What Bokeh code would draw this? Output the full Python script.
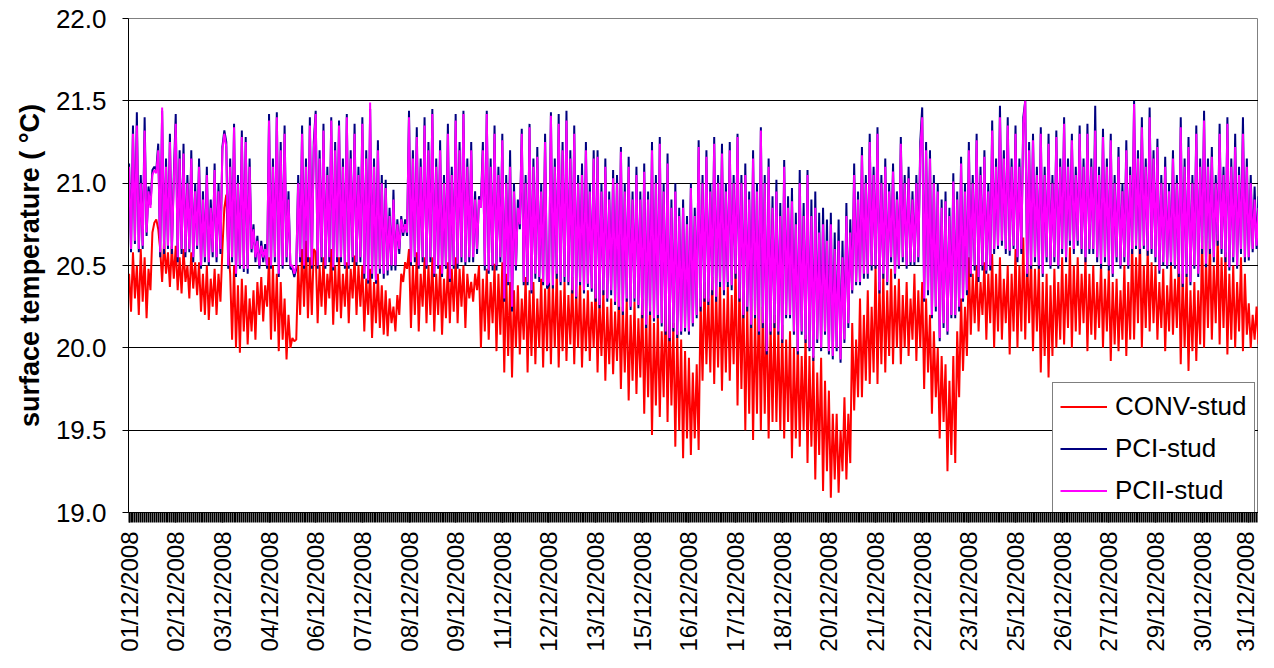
import math
from bokeh.plotting import figure
from bokeh.models import Range1d, FixedTicker, Legend, LegendItem
from bokeh.embed import file_html
from bokeh.resources import INLINE

# ---------------- data ----------------
date_labels = ["01/12/2008", "02/12/2008", "03/12/2008", "04/12/2008", "06/12/2008",
               "07/12/2008", "08/12/2008", "09/12/2008", "11/12/2008", "12/12/2008",
               "13/12/2008", "15/12/2008", "16/12/2008", "17/12/2008", "18/12/2008",
               "20/12/2008", "21/12/2008", "22/12/2008", "23/12/2008", "25/12/2008",
               "26/12/2008", "27/12/2008", "29/12/2008", "30/12/2008", "31/12/2008"]
samples_per_label = 24

y_ticks = [19.0, 19.5, 20.0, 20.5, 21.0, 21.5, 22.0]
grid_ticks = [19.5, 20.0, 20.5, 21.0, 21.5]

conv_stud = [
    20.45, 20.22, 20.58, 20.3, 20.5, 20.2, 20.6, 20.28, 20.55, 20.18, 20.48, 20.35,
    20.7, 20.76, 20.78, 20.72, 20.6, 20.4, 20.65, 20.45, 20.58, 20.37, 20.62, 20.42,
    20.62, 20.35, 20.55, 20.33, 20.6, 20.4, 20.5, 20.3, 20.58, 20.36, 20.52, 20.32,
    20.52, 20.22, 20.45, 20.2, 20.5, 20.17, 20.42, 20.25, 20.48, 20.2, 20.45, 20.28,
    20.6, 20.85, 20.93, 20.6, 20.45, 20.05, 20.5, 20.0, 20.38, 19.97, 20.42, 20.1,
    20.38, 20.02, 20.3, 20.1, 20.35, 20.05, 20.4, 20.2, 20.43, 20.16, 20.38, 20.25,
    20.55, 20.05, 20.5, 20.1, 20.45, 19.98, 20.4, 20.05, 20.3, 19.93, 20.2, 20.0,
    20.06, 20.04, 20.05, 20.5, 20.2, 20.6, 20.25, 20.65, 20.18, 20.55, 20.2, 20.6,
    20.58, 20.15, 20.5, 20.25, 20.55, 20.2, 20.45, 20.3, 20.6, 20.14, 20.5, 20.22,
    20.55, 20.18, 20.45, 20.25, 20.52, 20.15, 20.48, 20.3, 20.56, 20.2, 20.5, 20.25,
    20.5, 20.1, 20.42, 20.2, 20.48, 20.06, 20.4, 20.15, 20.45, 20.12, 20.38, 20.08,
    20.35, 20.07, 20.3, 20.15, 20.25, 20.1, 20.32, 20.2, 20.45, 20.4, 20.52, 20.48,
    20.6, 20.12, 20.5, 20.2, 20.58, 20.1, 20.45, 20.25, 20.55, 20.15, 20.5, 20.2,
    20.55, 20.1, 20.45, 20.2, 20.5, 20.08, 20.42, 20.18, 20.52, 20.15, 20.48, 20.22,
    20.55, 20.15, 20.48, 20.25, 20.5, 20.12, 20.45, 20.3, 20.4, 20.28, 20.45, 20.35,
    20.5, 20.0, 20.42, 20.1, 20.48, 20.05, 20.4, 20.15, 20.51, 19.98, 20.45, 20.08,
    20.52, 19.85, 20.45, 19.95, 20.4, 19.82, 20.35, 20.0, 20.38, 19.96, 20.3, 20.05,
    20.43, 19.85, 20.35, 19.95, 20.4, 19.9, 20.3, 20.0, 20.42, 19.88, 20.36, 19.98,
    20.45, 19.9, 20.38, 20.0, 20.47, 19.88, 20.35, 19.98, 20.4, 19.92, 20.32, 20.02,
    20.43, 19.9, 20.35, 20.0, 20.4, 19.88, 20.3, 19.98, 20.35, 19.92, 20.28, 20.0,
    20.39, 19.85, 20.3, 19.95, 20.35, 19.8, 20.25, 19.9, 20.3, 19.84, 20.22, 19.92,
    20.34, 19.75, 20.25, 19.85, 20.3, 19.68, 20.2, 19.8, 20.28, 19.72, 20.18, 19.82,
    20.3, 19.6, 20.2, 19.7, 20.25, 19.47, 20.15, 19.65, 20.2, 19.58, 20.1, 19.7,
    20.35, 19.55, 20.2, 19.65, 20.15, 19.4, 20.1, 19.5, 20.05, 19.33, 19.98, 19.45,
    19.94, 19.35, 19.85, 19.45, 19.9, 19.38, 20.3, 19.8, 20.4, 19.9, 20.3, 19.85,
    20.43, 19.78, 20.35, 19.88, 20.4, 19.74, 20.3, 19.85, 20.38, 19.8, 20.32, 19.9,
    20.5, 19.65, 20.4, 19.75, 20.35, 19.5, 20.25, 19.6, 20.3, 19.44, 20.2, 19.6,
    20.35, 19.5, 20.25, 19.6, 20.27, 19.45, 20.15, 19.55, 20.2, 19.55, 20.1, 19.5,
    20.14, 19.45, 20.05, 19.55, 20.1, 19.33, 20.0, 19.45, 20.05, 19.4, 19.95, 19.5,
    20.08, 19.3, 19.95, 19.4, 19.95, 19.2, 19.85, 19.35, 19.94, 19.13, 19.8, 19.25,
    19.74, 19.09, 19.6, 19.2, 19.6, 19.12, 19.5, 19.25, 19.7, 19.2, 19.6, 19.3,
    20.15, 19.62, 20.05, 19.7, 20.3, 19.7, 20.2, 19.8, 20.35, 19.78, 20.25, 19.85,
    20.5, 19.78, 20.4, 19.9, 20.45, 19.85, 20.35, 19.95, 20.48, 19.9, 20.38, 20.0,
    20.42, 19.9, 20.32, 20.0, 20.4, 19.95, 20.3, 20.05, 20.45, 19.92, 20.35, 20.0,
    20.4, 19.75, 20.3, 19.85, 20.2, 19.6, 20.1, 19.7, 20.0, 19.45, 19.95, 19.55,
    19.9, 19.25, 19.8, 19.35, 19.95, 19.3, 20.1, 19.7, 20.3, 19.86, 20.25, 19.95,
    20.55, 20.08, 20.45, 20.15, 20.5, 20.1, 20.4, 20.2, 20.52, 20.05, 20.45, 20.15,
    20.57, 20.0, 20.45, 20.1, 20.55, 20.05, 20.42, 20.15, 20.5, 19.96, 20.45, 20.1,
    20.6, 20.0, 20.5, 20.1, 20.67, 20.05, 20.55, 20.15, 20.55, 19.98, 20.48, 20.1,
    20.5, 19.85, 20.4, 19.95, 20.45, 19.82, 20.38, 19.95, 20.48, 20.0, 20.4, 20.05,
    20.55, 20.02, 20.45, 20.12, 20.61, 20.0, 20.5, 20.1, 20.55, 20.08, 20.45, 20.15,
    20.55, 19.98, 20.45, 20.08, 20.5, 20.05, 20.4, 20.12, 20.52, 20.0, 20.42, 20.1,
    20.48, 19.92, 20.4, 20.02, 20.42, 19.98, 20.35, 20.05, 20.5, 19.95, 20.4, 20.05,
    20.65, 20.05, 20.55, 20.15, 20.67, 20.0, 20.5, 20.12, 20.6, 20.1, 20.52, 20.15,
    20.5, 20.05, 20.4, 20.12, 20.48, 19.98, 20.38, 20.1, 20.5, 20.08, 20.42, 20.12,
    20.55, 19.9, 20.45, 20.0, 20.45, 19.86, 20.35, 19.98, 20.4, 19.92, 20.35, 20.02,
    20.68, 20.0, 20.55, 20.12, 20.65, 20.05, 20.5, 20.15, 20.69, 20.02, 20.55, 20.12,
    20.58, 19.96, 20.45, 20.05, 20.5, 20.0, 20.4, 20.1, 20.55, 19.98, 20.45, 20.08,
    20.27, 20.0, 20.2, 20.05, 20.25, 20.02,
]

pci_stud = [
    21.12, 20.58, 21.35, 20.63, 21.43, 20.58, 21.05, 20.6, 21.4, 20.68, 20.98, 20.87,
    21.08, 21.1, 21.08, 21.24, 20.55, 21.44, 20.57, 21.15, 20.6, 21.3, 20.57, 21.05,
    21.42, 20.52, 21.2, 20.57, 21.24, 20.55, 21.05, 20.58, 21.2, 20.52, 21.0, 20.6,
    21.15, 20.48, 20.95, 20.52, 21.1, 20.5, 20.9, 20.55, 21.12, 20.52, 21.0, 20.57,
    21.22, 21.32, 21.25, 20.48, 21.15, 20.52, 21.36, 20.43, 21.05, 20.48, 21.32, 20.46,
    21.28, 20.45, 21.15, 20.58, 20.75, 20.52, 20.68, 20.48, 20.65, 20.52, 20.63, 20.48,
    21.42, 20.48, 21.15, 20.52, 21.43, 20.43, 21.25, 20.48, 21.35, 20.52, 20.95, 20.48,
    20.48, 20.43, 20.48, 21.05, 20.52, 21.35, 20.48, 21.15, 20.52, 21.4, 20.48, 21.25,
    21.44, 20.48, 21.2, 20.52, 21.36, 20.48, 21.1, 20.52, 21.4, 20.47, 21.25, 20.52,
    21.38, 20.52, 21.15, 20.48, 21.42, 20.48, 21.2, 20.52, 21.36, 20.5, 21.1, 20.52,
    21.4, 20.42, 21.2, 20.39, 21.45, 20.42, 21.15, 20.39, 21.26, 20.45, 21.05, 20.42,
    21.02, 20.44, 20.85, 20.47, 20.96, 20.47, 20.78, 20.57, 20.8, 20.68, 20.78, 20.68,
    21.44, 20.5, 21.2, 20.52, 21.34, 20.48, 21.15, 20.52, 21.4, 20.48, 21.25, 20.52,
    21.45, 20.43, 21.15, 20.48, 21.26, 20.43, 21.05, 20.48, 21.36, 20.4, 21.1, 20.48,
    21.42, 20.48, 21.25, 20.52, 21.44, 20.5, 21.15, 20.52, 21.25, 20.52, 20.95, 20.57,
    20.92, 20.87, 21.25, 20.47, 21.44, 20.45, 21.15, 20.47, 21.35, 20.47, 21.1, 20.52,
    21.3, 20.28, 21.05, 20.38, 21.2, 20.22, 21.0, 20.47, 20.9, 20.72, 21.33, 20.38,
    21.05, 20.38, 21.36, 20.33, 21.15, 20.42, 21.22, 20.4, 21.0, 20.38, 21.3, 20.36,
    20.38, 21.43, 20.36, 21.15, 20.42, 21.42, 20.38, 21.25, 20.4, 21.44, 20.38, 21.2,
    20.33, 21.35, 20.3, 21.05, 20.38, 21.12, 20.33, 21.25, 20.37, 21.0, 20.34, 21.2,
    20.28, 21.2, 20.24, 21.0, 20.32, 21.15, 20.28, 20.95, 20.32, 21.08, 20.26, 21.05,
    20.23, 21.22, 20.2, 21.0, 20.28, 21.16, 20.23, 20.95, 20.28, 21.1, 20.24, 20.95,
    20.18, 21.12, 20.12, 20.95, 20.2, 21.25, 20.16, 21.05, 20.18, 21.28, 20.13, 21.0,
    20.08, 21.18, 20.04, 20.9, 20.1, 21.0, 20.06, 20.85, 20.08, 20.9, 20.1, 20.8,
    20.08, 21.0, 20.13, 20.85, 20.18, 21.26, 20.22, 21.05, 20.28, 21.2, 20.26, 21.0,
    20.32, 21.28, 20.28, 21.05, 20.37, 21.24, 20.32, 21.0, 20.37, 21.25, 20.35, 21.05,
    20.42, 21.3, 20.28, 21.05, 20.18, 21.12, 20.22, 20.95, 20.12, 21.2, 20.18, 21.0,
    20.08, 21.34, 20.12, 21.05, 19.96, 21.15, 20.08, 20.92, 20.12, 21.02, 20.08, 20.88,
    20.03, 21.14, 20.18, 20.92, 20.18, 20.97, 20.08, 20.82, 19.96, 21.08, 20.08, 20.88,
    20.03, 21.08, 19.98, 20.9, 19.92, 20.95, 20.03, 20.82, 19.98, 20.85, 20.08, 20.78,
    19.96, 20.82, 19.93, 20.7, 19.98, 20.78, 19.91, 20.65, 20.03, 20.88, 20.12, 20.78,
    20.33, 21.12, 20.38, 20.95, 20.38, 21.22, 20.42, 21.05, 20.42, 21.3, 20.47, 21.1,
    20.48, 21.34, 20.33, 21.05, 20.42, 21.15, 20.38, 21.0, 20.52, 21.12, 20.42, 20.95,
    20.48, 21.28, 20.52, 21.05, 20.48, 21.1, 20.5, 20.95, 20.5, 21.05, 20.52, 21.25,
    21.46, 20.28, 21.25, 20.32, 21.2, 20.18, 21.05, 20.22, 21.0, 20.04, 20.9, 20.12,
    20.95, 20.08, 20.85, 20.18, 21.06, 20.18, 20.95, 20.22, 21.16, 20.28, 21.0, 20.32,
    21.25, 20.43, 21.05, 20.47, 21.3, 20.4, 21.1, 20.47, 21.2, 20.45, 21.0, 20.47,
    21.38, 20.57, 21.15, 20.6, 21.47, 20.62, 21.2, 20.57, 21.4, 20.56, 21.15, 20.6,
    21.35, 20.52, 21.15, 20.57, 21.4, 21.5, 20.43, 21.25, 20.48, 21.3, 20.52, 21.1,
    20.48, 21.34, 20.43, 21.1, 20.52, 21.3, 20.48, 21.05, 20.52, 21.32, 20.48, 21.15,
    20.57, 21.4, 20.52, 21.15, 20.62, 21.3, 20.57, 21.1, 20.62, 21.35, 20.57, 21.15,
    20.52, 21.36, 20.57, 21.15, 20.57, 21.47, 20.52, 21.1, 20.48, 21.33, 20.52, 21.15,
    20.47, 21.3, 20.43, 21.05, 20.52, 21.22, 20.48, 21.0, 20.52, 21.26, 20.48, 21.1,
    20.57, 21.5, 20.6, 21.2, 20.57, 21.4, 20.6, 21.15, 20.56, 21.46, 20.57, 21.2,
    20.52, 21.27, 20.45, 21.05, 20.5, 21.16, 20.48, 21.0, 20.5, 21.2, 20.48, 21.05,
    20.43, 21.4, 20.37, 21.15, 20.43, 21.28, 20.38, 21.05, 20.48, 21.35, 20.43, 21.15,
    20.57, 21.44, 20.49, 21.15, 20.57, 21.22, 20.52, 21.05, 20.62, 21.36, 20.57, 21.1,
    20.52, 21.4, 20.47, 21.15, 20.52, 21.3, 20.48, 21.1, 20.57, 21.4, 20.52, 21.15,
    20.53, 21.05, 20.58, 20.98, 20.6, 20.92,
]

pcii_stud = [
    21.1, 20.6, 21.3, 20.65, 21.35, 20.6, 21.0, 20.62, 21.32, 20.7, 20.95, 20.85,
    21.05, 21.08, 21.06, 21.2, 20.58, 21.46, 20.6, 21.1, 20.62, 21.25, 20.6, 21.0,
    21.36, 20.55, 21.15, 20.6, 21.18, 20.58, 21.0, 20.6, 21.15, 20.55, 20.95, 20.62,
    21.1, 20.5, 20.9, 20.55, 21.05, 20.52, 20.85, 20.58, 21.08, 20.55, 20.95, 20.6,
    21.2, 21.3, 21.22, 20.5, 21.1, 20.55, 21.34, 20.45, 21.0, 20.5, 21.28, 20.48,
    21.25, 20.48, 21.1, 20.6, 20.72, 20.55, 20.65, 20.5, 20.62, 20.55, 20.6, 20.5,
    21.38, 20.5, 21.1, 20.55, 21.4, 20.45, 21.2, 20.5, 21.3, 20.55, 20.9, 20.5,
    20.5, 20.45, 20.5, 21.0, 20.55, 21.3, 20.5, 21.1, 20.55, 21.35, 20.5, 21.2,
    21.42, 20.5, 21.15, 20.55, 21.32, 20.5, 21.05, 20.55, 21.38, 20.49, 21.2, 20.55,
    21.35, 20.55, 21.1, 20.5, 21.4, 20.5, 21.15, 20.55, 21.3, 20.52, 21.05, 20.55,
    21.36, 20.45, 21.15, 20.41, 21.49, 20.45, 21.1, 20.41, 21.2, 20.48, 21.0, 20.45,
    20.97, 20.47, 20.8, 20.5, 20.9, 20.5, 20.75, 20.6, 20.78, 20.7, 20.75, 20.7,
    21.4, 20.52, 21.15, 20.55, 21.28, 20.5, 21.1, 20.55, 21.35, 20.5, 21.2, 20.55,
    21.42, 20.45, 21.1, 20.5, 21.2, 20.45, 21.0, 20.5, 21.3, 20.42, 21.05, 20.5,
    21.38, 20.51, 21.2, 20.55, 21.42, 20.52, 21.1, 20.55, 21.2, 20.55, 20.9, 20.6,
    20.9, 20.85, 21.2, 20.5, 21.42, 20.47, 21.1, 20.5, 21.3, 20.5, 21.05, 20.55,
    21.26, 20.3, 21.0, 20.4, 21.1, 20.25, 20.95, 20.5, 20.85, 20.75, 21.3, 20.4,
    21.0, 20.4, 21.34, 20.35, 21.1, 20.45, 21.16, 20.43, 20.95, 20.4, 21.25, 20.38,
    20.4, 21.41, 20.38, 21.1, 20.45, 21.36, 20.4, 21.2, 20.43, 21.38, 20.4, 21.15,
    20.35, 21.3, 20.31, 21.0, 20.4, 21.05, 20.35, 21.2, 20.39, 20.95, 20.36, 21.15,
    20.3, 21.16, 20.26, 20.95, 20.35, 21.1, 20.3, 20.9, 20.35, 21.03, 20.28, 21.0,
    20.25, 21.19, 20.22, 20.95, 20.3, 21.1, 20.25, 20.9, 20.3, 21.05, 20.26, 20.9,
    20.2, 21.07, 20.14, 20.9, 20.22, 21.2, 20.18, 21.0, 20.2, 21.24, 20.15, 20.95,
    20.1, 21.12, 20.06, 20.85, 20.12, 20.95, 20.08, 20.8, 20.1, 20.85, 20.12, 20.75,
    20.1, 20.97, 20.15, 20.8, 20.2, 21.22, 20.25, 21.0, 20.3, 21.16, 20.28, 20.95,
    20.35, 21.24, 20.31, 21.0, 20.4, 21.18, 20.35, 20.95, 20.4, 21.2, 20.38, 21.0,
    20.45, 21.28, 20.3, 21.0, 20.2, 21.05, 20.25, 20.9, 20.14, 21.15, 20.2, 20.95,
    20.1, 21.32, 20.15, 21.0, 19.98, 21.1, 20.1, 20.85, 20.15, 20.95, 20.1, 20.8,
    20.05, 21.1, 20.2, 20.85, 20.2, 20.89, 20.1, 20.75, 19.98, 21.0, 20.1, 20.8,
    20.05, 21.05, 20.0, 20.8, 19.94, 20.85, 20.05, 20.7, 20.0, 20.75, 20.1, 20.65,
    19.98, 20.75, 19.95, 20.6, 20.0, 20.65, 19.93, 20.55, 20.05, 20.8, 20.15, 20.7,
    20.35, 21.05, 20.4, 20.9, 20.4, 21.17, 20.45, 21.0, 20.45, 21.25, 20.5, 21.05,
    20.5, 21.3, 20.35, 21.0, 20.45, 21.1, 20.4, 20.95, 20.55, 21.07, 20.45, 20.9,
    20.5, 21.24, 20.55, 21.0, 20.5, 21.03, 20.52, 20.9, 20.52, 21.0, 20.55, 21.2,
    21.4, 20.3, 21.2, 20.35, 21.15, 20.2, 21.0, 20.25, 20.95, 20.06, 20.85, 20.15,
    20.89, 20.1, 20.8, 20.2, 21.01, 20.2, 20.9, 20.25, 21.12, 20.3, 20.95, 20.35,
    21.2, 20.45, 21.0, 20.5, 21.26, 20.43, 21.05, 20.5, 21.16, 20.47, 20.95, 20.5,
    21.32, 20.6, 21.1, 20.62, 21.4, 20.65, 21.15, 20.6, 21.35, 20.59, 21.1, 20.62,
    21.3, 20.55, 21.1, 20.6, 21.36, 21.5, 20.45, 21.2, 20.5, 21.26, 20.55, 21.05,
    20.5, 21.3, 20.45, 21.05, 20.55, 21.24, 20.5, 21.0, 20.55, 21.28, 20.5, 21.1,
    20.6, 21.36, 20.55, 21.1, 20.65, 21.26, 20.6, 21.05, 20.65, 21.3, 20.6, 21.1,
    20.55, 21.3, 20.6, 21.1, 20.6, 21.32, 20.55, 21.05, 20.51, 21.28, 20.55, 21.1,
    20.5, 21.26, 20.45, 21.0, 20.55, 21.16, 20.5, 20.95, 20.55, 21.2, 20.5, 21.05,
    20.6, 21.48, 20.62, 21.15, 20.6, 21.34, 20.62, 21.1, 20.59, 21.4, 20.6, 21.15,
    20.55, 21.22, 20.47, 21.0, 20.52, 21.1, 20.5, 20.95, 20.52, 21.15, 20.5, 21.0,
    20.45, 21.34, 20.39, 21.1, 20.45, 21.22, 20.4, 21.0, 20.5, 21.3, 20.45, 21.1,
    20.6, 21.38, 20.51, 21.1, 20.6, 21.16, 20.55, 21.0, 20.65, 21.3, 20.6, 21.05,
    20.55, 21.36, 20.49, 21.1, 20.55, 21.22, 20.5, 21.05, 20.6, 21.3, 20.55, 21.1,
    20.55, 21.0, 20.6, 20.9, 20.62, 20.85,
]

# ---------------- figure ----------------
FONT = "Liberation Sans"

p = figure(frame_width=1130, frame_height=494,
           min_border_left=128, min_border_right=0, min_border_top=18, min_border_bottom=0,
           x_range=Range1d(-0.3, 581), y_range=Range1d(19.0, 22.0),
           output_backend="svg", toolbar_location=None, tools="",
           background_fill_color="white", border_fill_color="white")

p.outline_line_color = "#808080"
p.outline_line_width = 1

r_conv = p.line(list(range(len(conv_stud))), conv_stud, line_color="#FF0000", line_width=2)
r_pci = p.line(list(range(len(pci_stud))), pci_stud, line_color="#000080", line_width=2)
r_pcii = p.line(list(range(len(pcii_stud))), pcii_stud, line_color="#FF00FF", line_width=2)

# y axis
p.yaxis.ticker = FixedTicker(ticks=y_ticks)
p.yaxis.major_label_overrides = {t: f"{t:.1f}" for t in y_ticks}
p.yaxis.major_label_text_font = FONT
p.yaxis.major_label_text_font_size = "26px"
p.yaxis.major_label_text_color = "black"
p.yaxis.major_tick_out = 6
p.yaxis.major_tick_in = 0
p.yaxis.minor_tick_line_color = None
p.yaxis.major_label_standoff = 16
p.yaxis.axis_line_color = "black"
p.yaxis.major_tick_line_color = "black"
p.yaxis.axis_label = "surface temperature ( \u00b0C)"
p.yaxis.axis_label_text_font = FONT
p.yaxis.axis_label_text_font_style = "bold"
p.yaxis.axis_label_text_font_size = "27px"
p.yaxis.axis_label_text_color = "black"
p.yaxis.axis_label_standoff = 8

# x axis: a date label every samples_per_label points, a tick mark at every point
n_pts = len(conv_stud)
label_pos = [i * samples_per_label for i in range(len(date_labels))]
minor_pos = list(range(n_pts))
p.xaxis.ticker = FixedTicker(ticks=label_pos, minor_ticks=minor_pos)
p.xaxis.major_label_overrides = {pos: lab for pos, lab in zip(label_pos, date_labels)}
p.xaxis.major_label_orientation = math.pi / 2
p.xaxis.major_label_text_font = FONT
p.xaxis.major_label_text_font_size = "24px"
p.xaxis.major_label_text_color = "black"
p.xaxis.major_tick_out = 10
p.xaxis.major_tick_in = 0
p.xaxis.minor_tick_out = 10
p.xaxis.minor_tick_in = 0
p.xaxis.major_tick_line_color = "black"
p.xaxis.minor_tick_line_color = "black"
p.xaxis.minor_tick_line_width = 1.6
p.xaxis.major_tick_line_width = 1.6
p.xaxis.major_label_standoff = 9
p.xaxis.axis_line_color = "black"

p.xgrid.visible = False
p.ygrid.ticker = FixedTicker(ticks=grid_ticks)
p.ygrid.grid_line_color = "#000000"
p.ygrid.grid_line_width = 1

legend = Legend(items=[LegendItem(label="CONV-stud", renderers=[r_conv]),
                       LegendItem(label="PCI-stud", renderers=[r_pci]),
                       LegendItem(label="PCII-stud", renderers=[r_pcii])],
                location=(924, -3))
legend.border_line_color = "black"
legend.border_line_width = 1
legend.background_fill_color = "white"
legend.background_fill_alpha = 1.0
legend.label_text_font = FONT
legend.label_text_font_size = "26px"
legend.label_text_color = "black"
legend.glyph_width = 47
legend.glyph_height = 33
legend.label_height = 33
legend.label_standoff = 8
legend.spacing = 9
legend.padding = 7
legend.margin = 0
p.add_layout(legend)

open("out.html", "w").write(file_html(p, INLINE))
